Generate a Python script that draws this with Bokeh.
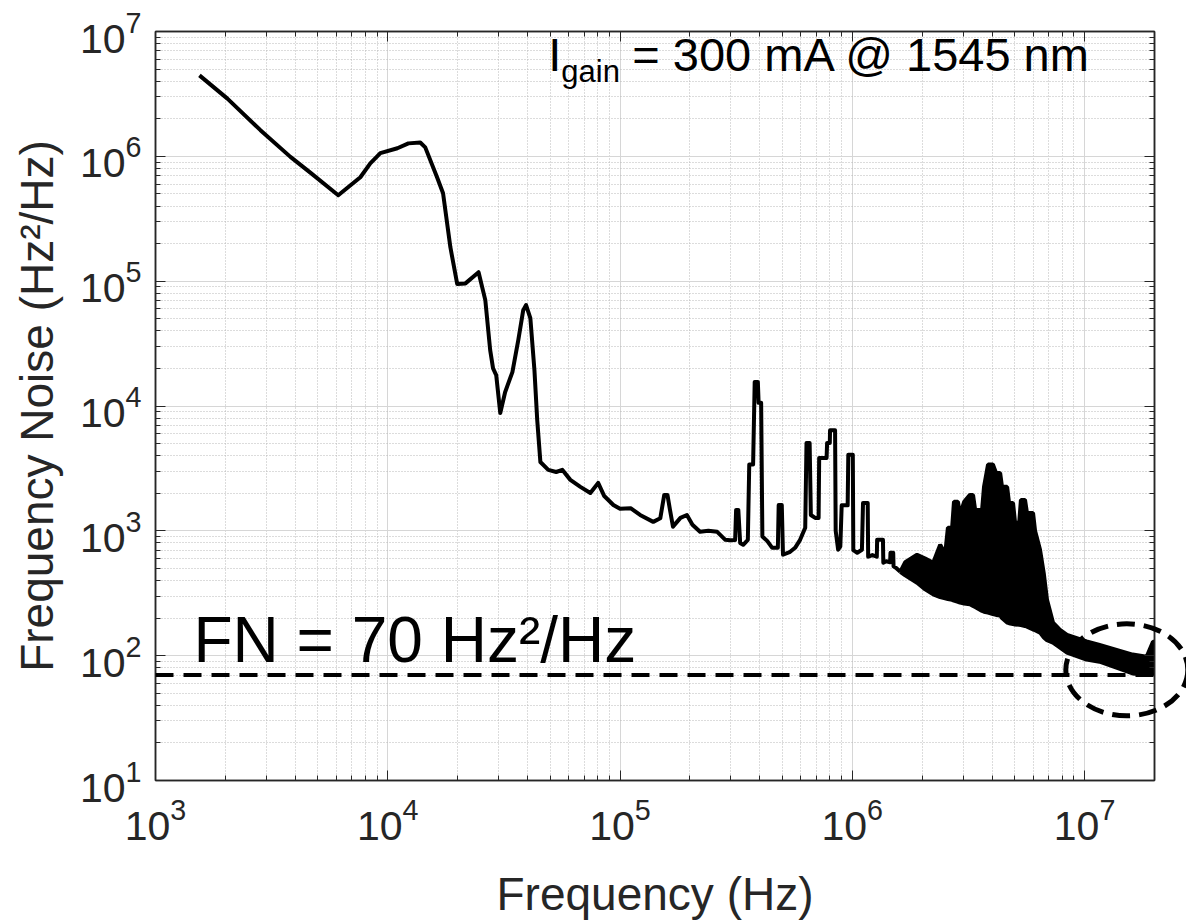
import numpy as np
from bokeh.plotting import figure
from bokeh.models import LogAxis, FixedTicker, Label, Span, CustomJSTickFormatter
from bokeh.embed import file_html
from bokeh.resources import INLINE

# ---- main trace (frequency in Hz, frequency noise in Hz^2/Hz) ----
freq_hz = [1546, 2040, 2830, 3810, 4640, 6120, 7620, 8410, 9290, 11000,
           12270, 13800, 14500, 16300, 17300, 18600, 19900, 21600, 24600, 26300,
           27600, 28400, 29300, 30500, 32000, 34400, 36500, 38300, 39400, 41100,
           42800, 44000, 45400, 49100, 53100, 56400, 61100, 67500, 74500, 80500,
           85500, 93600, 100000, 111000, 122000, 139000, 149000, 155000, 160000, 164000,
           169000, 182000, 194000, 205000, 221000, 240000, 262000, 284000, 298000, 313000,
           316000, 323000, 329000, 339000, 355000, 360000, 374000, 380000, 392000, 395000,
           405000, 410000, 430000, 452000, 478000, 482000, 497000, 503000, 540000, 567000,
           596000, 627000, 635000, 655000, 663000, 692000, 716000, 720000, 775000, 779000,
           800000, 802000, 843000, 848000, 869000, 888000, 900000, 955000, 961000, 1005000,
           1010000, 1050000, 1100000, 1112000, 1165000, 1170000, 1220000, 1275000, 1279000, 1355000,
           1360000, 1400000, 1455000, 1460000, 1500000, 1505000, 1540000, 1610000]
noise = [4.45e6, 2.9e6, 1.62e6, 9.9e5, 7.4e5, 4.88e5, 6.8e5, 8.79e5, 1.06e6, 1.16e6,
         1.27e6, 1.29e6, 1.18e6, 6.8e5, 5.06e5, 1.87e5, 9.5e4, 9.6e4, 1.18e5, 7.05e4,
         2.8e4, 2.0e4, 1.77e4, 8.8e3, 1.29e4, 1.87e4, 3.4e4, 5.86e4, 6.43e4, 5.06e4,
         1.94e4, 7.7e3, 3.56e3, 3.08e3, 2.96e3, 3.08e3, 2.56e3, 2.25e3, 2.01e3, 2.42e3,
         1.9e3, 1.61e3, 1.5e3, 1.52e3, 1.34e3, 1.18e3, 1.26e3, 1.94e3, 1.94e3, 1.48e3,
         1.08e3, 1.27e3, 1.34e3, 1.12e3, 982, 1000, 982, 847, 840, 845,
         1.47e3, 1.47e3, 800, 773, 847, 3.4e3, 3.4e3, 1.56e4, 1.56e4, 1.06e4,
         1.06e4, 900, 831, 731, 731, 1.61e3, 1.61e3, 643, 679, 731,
         847, 1.06e3, 5.06e3, 5.06e3, 1.34e3, 1.27e3, 1.27e3, 3.84e3, 3.84e3, 5.06e3,
         5.06e3, 6.4e3, 6.4e3, 1.0e3, 705, 750, 1.6e3, 1.6e3, 4.06e3, 4.06e3,
         700, 667, 705, 1.67e3, 1.67e3, 620, 640, 620, 847, 847,
         555, 570, 560, 667, 667, 520, 506, 470]

# ---- dense high-frequency part: lower / upper envelope of the trace ----
band_freq = [1.61e6, 1.69e6, 1.90e6, 2.06e6, 2.23e6, 2.39e6, 2.51e6, 2.58e6, 2.69e6, 2.74e6,
             2.85e6, 2.91e6, 3.03e6, 3.21e6, 3.31e6, 3.38e6, 3.62e6, 3.69e6, 3.84e6, 4.03e6,
             4.16e6, 4.33e6, 4.41e6, 4.64e6, 4.73e6, 4.92e6, 5.02e6, 5.23e6, 5.32e6, 5.54e6,
             5.65e6, 6.0e6, 6.12e6, 6.43e6, 6.68e6, 6.89e6, 7.31e6, 7.84e6, 8.40e6, 1.02e7,
             1.16e7, 1.61e7, 1.85e7, 1.97e7, 2.0e7]
band_high = [470, 560, 643, 600, 555, 773, 650, 1.06e3, 1.06e3, 1.71e3,
             1.71e3, 1.34e3, 1.71e3, 1.94e3, 1.94e3, 1.47e3, 1.47e3, 2.25e3, 3.4e3, 3.4e3,
             2.9e3, 2.9e3, 2.25e3, 2.25e3, 1.67e3, 1.67e3, 1.16e3, 1.16e3, 1.77e3, 1.77e3,
             1.39e3, 1.39e3, 1.0e3, 705, 450, 281, 184, 161, 147, 130,
             122, 102, 98, 129, 129]
band_low = [470, 440, 384, 340, 310, 295, 288, 284, 280, 276,
            270, 266, 262, 258, 250, 245, 228, 225, 221, 215,
            212, 210, 200, 184, 182, 179, 178, 177, 176, 173,
            171, 162, 160, 153, 140, 133, 127, 116, 106, 93,
            89.5, 72, 70.5, 72, 80]

fn_level = 70
ellipse_center = (1.52e7, 77)

x_major = [1e3, 1e4, 1e5, 1e6, 1e7]
y_major = [1e1, 1e2, 1e3, 1e4, 1e5, 1e6, 1e7]
x_minor = [k * 10 ** d for d in range(3, 8) for k in range(2, 10) if k * 10 ** d <= 2e7]
y_minor = [k * 10 ** d for d in range(1, 7) for k in range(2, 10)]

FONT = "Liberation Sans"
AX = "#262626"

p = figure(width=1186, height=922, x_axis_type="log", y_axis_type="log",
           x_range=(1e3, 2e7), y_range=(1e1, 1e7),
           output_backend="svg", toolbar_location=None,
           min_border_left=155, min_border_top=31, min_border_right=32, min_border_bottom=140)
p.background_fill_color = "white"
p.border_fill_color = "white"
p.outline_line_color = AX
p.outline_line_width = 1.5

xt = FixedTicker(ticks=x_major, minor_ticks=x_minor)
yt = FixedTicker(ticks=y_major, minor_ticks=y_minor)
p.xaxis.ticker = xt
p.yaxis.ticker = yt
p.xgrid.ticker = xt
p.ygrid.ticker = yt

for g in (p.xgrid, p.ygrid):
    g.grid_line_color = "#d6d6d6"
    g.grid_line_width = 1
    g.minor_grid_line_color = "#b8b8b8"
    g.minor_grid_line_dash = "1 2"
    g.minor_grid_line_width = 1

for ax in (p.xaxis, p.yaxis):
    ax.axis_line_color = AX
    ax.axis_line_width = 1.5
    ax.major_tick_in = 10
    ax.major_tick_out = 0
    ax.minor_tick_in = 5
    ax.minor_tick_out = 0
    ax.major_tick_line_color = AX
    ax.minor_tick_line_color = AX
    ax.major_label_text_font = FONT
    ax.major_label_text_font_size = "41px"
    ax.major_label_text_color = AX
    ax.axis_label_text_font = FONT
    ax.axis_label_text_font_size = "46px"
    ax.axis_label_text_font_style = "normal"
    ax.axis_label_text_color = AX

p.xaxis.axis_label = "Frequency (Hz)"
p.yaxis.axis_label = "Frequency Noise (Hz²/Hz)"
p.xaxis.major_label_standoff = 17
p.yaxis.major_label_standoff = 14
p.xaxis.axis_label_standoff = 25
p.yaxis.axis_label_standoff = 14

blank = CustomJSTickFormatter(code="return ''")
top = LogAxis(ticker=xt, formatter=blank, major_tick_in=10, major_tick_out=0,
              minor_tick_in=5, minor_tick_out=0, axis_line_color=AX, axis_line_width=1.5,
              major_tick_line_color=AX, minor_tick_line_color=AX, major_label_standoff=0)
right = LogAxis(ticker=yt, formatter=blank, major_tick_in=10, major_tick_out=0,
                minor_tick_in=5, minor_tick_out=0, axis_line_color=AX, axis_line_width=1.5,
                major_tick_line_color=AX, minor_tick_line_color=AX, major_label_standoff=0)
p.add_layout(top, "above")
p.add_layout(right, "right")

# trace
p.line(freq_hz, noise, line_color="black", line_width=4, line_join="round")
p.varea(x=band_freq, y1=band_low, y2=band_high, fill_color="black")
p.line(band_freq, band_high, line_color="black", line_width=4)
p.line(band_freq, band_low, line_color="black", line_width=4)

# FN floor
p.add_layout(Span(location=fn_level, dimension="width", line_color="black",
                  line_width=4, line_dash="18 10"))
p.ellipse(x=[ellipse_center[0]], y=[ellipse_center[1]], width=122, height=92,
          width_units="screen", height_units="screen", fill_color=None,
          line_color="black", line_width=5, line_dash="18 9", level="overlay")

# annotations (text anchored at its vertical middle)
gx, gy = 49100, 6.49e6
p.add_layout(Label(x=gx, y=gy, text="I", text_font=FONT, text_font_size="47px",
                   text_color="black", text_baseline="middle"))
p.add_layout(Label(x=gx, y=gy, x_offset=13, y_offset=-17, text="gain", text_font=FONT,
                   text_font_size="31px", text_color="black", text_baseline="middle"))
p.add_layout(Label(x=gx, y=gy, x_offset=84, text="= 300 mA @ 1545 nm", text_font=FONT,
                   text_font_size="47px", text_color="black", text_baseline="middle"))
p.add_layout(Label(x=1457, y=134, text="FN = 70 Hz²/Hz", text_font=FONT,
                   text_font_size="64px", text_color="black", text_baseline="middle"))

open("out.html", "w").write(file_html(p, INLINE))
